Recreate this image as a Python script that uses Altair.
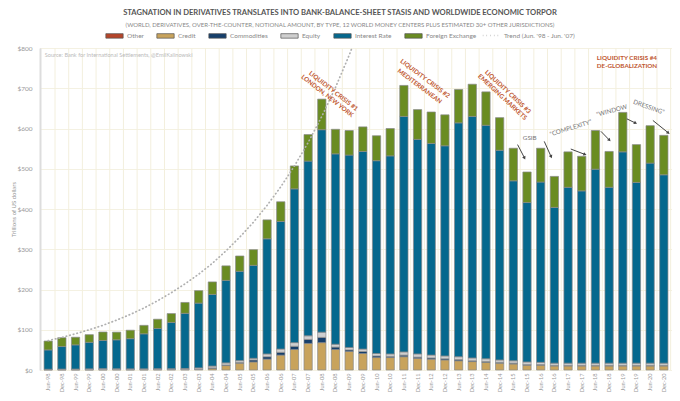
import math
import altair as alt
import pandas as pd

# ---------------- data ----------------
periods = ["Jun-98", "Dec-98", "Jun-99", "Dec-99", "Jun-00", "Dec-00", "Jun-01", "Dec-01",
           "Jun-02", "Dec-02", "Jun-03", "Dec-03", "Jun-04", "Dec-04", "Jun-05", "Dec-05",
           "Jun-06", "Dec-06", "Jun-07", "Dec-07", "Jun-08", "Dec-08", "Jun-09", "Dec-09",
           "Jun-10", "Dec-10", "Jun-11", "Dec-11", "Jun-12", "Dec-12", "Jun-13", "Dec-13",
           "Jun-14", "Dec-14", "Jun-15", "Dec-15", "Jun-16", "Dec-16", "Jun-17", "Dec-17",
           "Jun-18", "Dec-18", "Jun-19", "Dec-19", "Jun-20", "Dec-20"]

other = [0] * 46
credit = [0, 0, 0, 0, 0, 0, 0, 0, 0, 0, 0, 0,
          4, 11, 17, 20, 27, 37, 51, 66, 68, 51, 46, 41, 31, 31, 33, 29, 27, 25, 23, 21,
          19, 17, 15, 12, 12, 10, 10, 10, 10, 10, 10, 10, 10, 10]
commodities = [0.4, 0.4, 0.4, 0.4, 0.6, 0.7, 0.6, 0.6, 0.8, 0.9, 1.0, 1.4,
               1.3, 1.4, 1.7, 5, 6, 7, 8, 10, 13, 6, 4, 5, 4, 3, 4, 3, 3, 3, 3, 2,
               2, 2, 2, 1.5, 1.5, 1.5, 1.5, 1.5, 1.5, 1.5, 1.5, 1.5, 1.5, 1.5]
equity = [1.5, 1.9, 2.0, 2.4, 2.8, 2.3, 2.2, 2.3, 2.4, 2.3, 2.8, 3.8,
          4.5, 5.3, 4.6, 4, 7, 8, 9, 9, 13, 7, 6, 6, 6, 6, 8, 8, 7, 7, 7, 7,
          7, 6, 6, 6.5, 5.5, 5.5, 5.5, 5.5, 5.5, 5.5, 5.5, 5.5, 5.5, 5.5]
interest_rate = [48, 56, 60, 66, 70, 72, 75, 87, 100, 115, 137, 161,
                 178, 205, 222, 231, 286, 317, 382, 434, 503, 473, 478, 491, 479, 492,
                 585, 533, 526, 522, 581, 600, 580, 521, 447, 396, 448, 387, 437, 428,
                 482, 437, 525, 449, 497, 468]
foreign_exchange = [22, 22, 19, 19, 21, 19, 21, 21, 23, 22, 27, 31, 31, 36, 38, 39, 47, 49,
                    57, 66, 76, 61, 61, 61, 62, 68, 77, 74, 78, 77, 83, 80, 83, 81, 81, 76,
                    84, 77, 88, 86, 96, 89, 98, 94, 93, 98]

# exponential trend (Jun. '98 - Jun. '07)
trend = [73, 81, 90, 100, 111, 124, 138, 154, 172, 192, 214, 238, 265, 296, 330, 367,
         409, 455, 507, 565, 630, 702, 782, 871]

series_names = ["Other", "Credit", "Commodities", "Equity", "Interest Rate", "Foreign Exchange"]
series_colors = ["#b5452a", "#c8a35c", "#163f6b", "#cfcfcf", "#05688e", "#6a8c22"]
stack_rank = {"Credit": 1, "Commodities": 2, "Equity": 3, "Interest Rate": 4,
              "Foreign Exchange": 5, "Other": 0}
series_values = {"Other": other, "Credit": credit, "Commodities": commodities,
                 "Equity": equity, "Interest Rate": interest_rate,
                 "Foreign Exchange": foreign_exchange}

rows = []
for name in series_names:
    for i, v in enumerate(series_values[name]):
        if v > 0:
            rows.append({"idx": i, "period": periods[i], "series": name, "value": v,
                         "rank": stack_rank[name]})
bars_df = pd.DataFrame(rows)

trend_label = "Trend (Jun. '98 - Jun. '07)"
trend_df = pd.DataFrame({"idx": list(range(len(trend))), "value": trend, "kind": trend_label})

grid_df = pd.DataFrame({"b": [i + 0.5 for i in range(len(periods))]})

# annotations (x in period-index units, y in trillions)
crisis_text = pd.DataFrame({
    "x": [20.85, 20.4, 27.55, 27.15, 33.6, 33.2],
    "y": [693, 681, 724, 705, 691, 678],
    "text": ["LIQUIDITY CRISIS #1", "LONDON, NEW YORK", "LIQUIDITY CRISIS #2",
             "MEDITERRANEAN", "LIQUIDITY CRISIS #3", "EMERGING MARKETS"],
    "angle": [38, 38, 37, 37, 43, 43],
})
crisis4_text = pd.DataFrame({"x": [40.1, 40.1], "y": [776, 755],
                             "text": ["LIQUIDITY CRISIS #4", "DE-GLOBALIZATION"]})
gray_text = pd.DataFrame({
    "x": [35.2, 38.2, 41.2, 43.9],
    "y": [577, 601, 644, 653],
    "text": ["GSIB", "\u201cCOMPLEXITY\u201d", "\u201cWINDOW", "DRESSING\u201d"],
    "angle": [0, 343, 345, 20],
})
source_df = pd.DataFrame({"x": [-0.25], "y": [783],
                          "text": ["Source: Bank for International Settlements, @EmilKalinowski"]})

arrows = pd.DataFrame({
    "x": [34.31, 36.26, 38.2, 40.4, 42.3, 44.2],
    "y": [560, 568, 549, 593, 624, 620],
    "x2": [34.8, 36.75, 39.2, 41.0, 42.9, 45.3],
    "y2": [528, 531, 536, 572, 614, 590],
})

# ---------------- layout / scales ----------------
FONT = "Lato"
W, H = 632, 322
N = len(periods)
P_IN, P_OUT = 0.394, 0.2955
STEP = W / (N - P_IN + 2 * P_OUT)
C0 = P_OUT * STEP + (1 - P_IN) * STEP / 2
qdomain = [-C0 / STEP, (W - C0) / STEP]  # continuous index scale aligned with the bands
PX_X, PX_Y = STEP, H / 800.0
arrows["ang"] = [
    (math.degrees(math.atan2((r.x2 - r.x) * PX_X, (r.y2 - r.y) * PX_Y)) + 360) % 360
    for r in arrows.itertuples()
]

band = alt.Scale(domain=periods, paddingInner=P_IN, paddingOuter=P_OUT)
qx = alt.Scale(domain=qdomain, nice=False, zero=False)
yscale = alt.Scale(domain=[0, 800], nice=False)

x_axis = alt.Axis(labelAngle=270, labelAlign="right", labelBaseline="middle",
                  labelFontSize=5.7, labelColor="#999", labelFont=FONT, labelPadding=3,
                  ticks=False, domain=False, grid=False, title=None, labelOverlap=False)
y_axis = alt.Axis(values=list(range(0, 801, 100)), labelExpr="'$' + datum.value",
                  labelFontSize=6.5, labelColor="#999", labelFont=FONT, labelPadding=8,
                  ticks=False, domain=True, domainColor="#dddddd", domainWidth=2,
                  grid=True, gridColor="#f4f1e2", gridWidth=1,
                  title="Trillions of US dollars", titleFontSize=6, titleColor="#999",
                  titleFont=FONT, titleFontWeight="normal", titleX=-27, titleY=H / 2,
                  titleAngle=270, titleAlign="center", titleBaseline="middle")

grid = alt.Chart(grid_df).mark_rule(color="#f3efdd", strokeWidth=1).encode(
    x=alt.X("b:Q", scale=qx, axis=None),
)

bars = alt.Chart(bars_df).mark_bar(stroke="#8a8a8a", strokeWidth=0.7).encode(
    x=alt.X("period:N", scale=band, sort=periods, axis=x_axis),
    y=alt.Y("value:Q", stack="zero", scale=yscale, axis=y_axis),
    color=alt.Color("series:N",
                    scale=alt.Scale(domain=series_names, range=series_colors),
                    legend=alt.Legend(orient="none", legendX=65, legendY=-22,
                                      direction="horizontal", title=None,
                                      symbolType="M-1,-0.26H1V0.26H-1Z", symbolSize=300,
                                      symbolStrokeColor="#555", symbolStrokeWidth=0.7,
                                      labelFontSize=6.5, labelColor="#888", labelFont=FONT,
                                      labelOffset=3, columnPadding=11)),
    order=alt.Order("rank:Q", sort="ascending"),
)

trend_line = alt.Chart(trend_df).mark_line(color="#b0b0b0", strokeWidth=1.7, clip=True,
                                           strokeCap="round").encode(
    x=alt.X("idx:Q", scale=qx, axis=None),
    y=alt.Y("value:Q", scale=yscale),
    strokeDash=alt.StrokeDash("kind:N", scale=alt.Scale(range=[[0.5, 3.2]]),
                              legend=alt.Legend(orient="none", legendX=442, legendY=-22,
                                                title=None, symbolType="stroke",
                                                symbolStrokeColor="#aaa",
                                                symbolStrokeWidth=1.5, symbolSize=300,
                                                labelFontSize=6.5, labelColor="#888",
                                                labelFont=FONT, labelOffset=3)),
)

crisis = alt.Chart(crisis_text).mark_text(font=FONT, fontSize=6.3, fontWeight="bold",
                                          color="#c0572f", align="center",
                                          baseline="middle").encode(
    x=alt.X("x:Q", scale=qx, axis=None), y=alt.Y("y:Q", scale=yscale),
    text="text:N", angle=alt.Angle("angle:Q", scale=None))

crisis4 = alt.Chart(crisis4_text).mark_text(font=FONT, fontSize=6.3, fontWeight="bold",
                                            color="#c0572f", align="left",
                                            baseline="middle").encode(
    x=alt.X("x:Q", scale=qx, axis=None), y=alt.Y("y:Q", scale=yscale), text="text:N")

grays = alt.Chart(gray_text).mark_text(font=FONT, fontSize=6.3, color="#777",
                                       align="center", baseline="middle").encode(
    x=alt.X("x:Q", scale=qx, axis=None), y=alt.Y("y:Q", scale=yscale),
    text="text:N", angle=alt.Angle("angle:Q", scale=None))

source = alt.Chart(source_df).mark_text(font=FONT, fontSize=5.6, color="#bbbbbb",
                                        align="left", baseline="middle").encode(
    x=alt.X("x:Q", scale=qx, axis=None), y=alt.Y("y:Q", scale=yscale), text="text:N")

arrow_lines = alt.Chart(arrows).mark_rule(color="#444", strokeWidth=1).encode(
    x=alt.X("x:Q", scale=qx, axis=None), y=alt.Y("y:Q", scale=yscale),
    x2="x2:Q", y2="y2:Q")
arrow_heads = alt.Chart(arrows).mark_point(shape="triangle", filled=True, color="#444",
                                           size=14, opacity=1).encode(
    x=alt.X("x2:Q", scale=qx, axis=None), y=alt.Y("y2:Q", scale=yscale),
    angle=alt.Angle("ang:Q", scale=None))

chart = alt.layer(grid, bars, trend_line, crisis, crisis4, grays, source,
                  arrow_lines, arrow_heads).resolve_scale(x="independent").properties(
    width=W, height=H,
    autosize=alt.AutoSizeParams(type="none"),
    padding={"left": 32, "top": 40, "right": 0, "bottom": 23},
    title=alt.TitleParams(
        text="STAGNATION IN DERIVATIVES TRANSLATES INTO BANK-BALANCE-SHEET STASIS AND WORLDWIDE ECONOMIC TORPOR",
        subtitle="(WORLD, DERIVATIVES, OVER-THE-COUNTER, NOTIONAL AMOUNT, BY TYPE, 12 WORLD MONEY CENTERS PLUS ESTIMATED 30+ OTHER JURISDICTIONS)",
        anchor="middle", frame="group", dx=-16, offset=-2, fontSize=7.6, font=FONT,
        fontWeight="bold", color="#555", subtitleFontSize=6, subtitleFont=FONT,
        subtitleColor="#888", subtitlePadding=5),
).configure_view(stroke=None).configure(background="white")

chart.save("out.html", embed_options={"renderer": "svg", "actions": False})
